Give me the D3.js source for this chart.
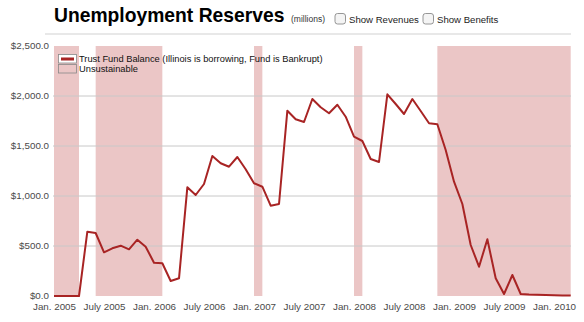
<!DOCTYPE html>
<html><head><meta charset="utf-8">
<script src="https://cdn.jsdelivr.net/npm/d3@7"></script>
<style>
html,body{margin:0;padding:0;background:#fff;}
svg{display:block;font-family:"Liberation Sans",Arial,Helvetica,sans-serif;}
</style></head>
<body><svg id="c" width="584" height="322"></svg>
<script>
// Monthly trust fund balance, $ millions, Jan 2005 .. Mar 2010
const months = ["2005-01","2005-02","2005-03","2005-04","2005-05","2005-06","2005-07","2005-08","2005-09","2005-10","2005-11","2005-12",
"2006-01","2006-02","2006-03","2006-04","2006-05","2006-06","2006-07","2006-08","2006-09","2006-10","2006-11","2006-12",
"2007-01","2007-02","2007-03","2007-04","2007-05","2007-06","2007-07","2007-08","2007-09","2007-10","2007-11","2007-12",
"2008-01","2008-02","2008-03","2008-04","2008-05","2008-06","2008-07","2008-08","2008-09","2008-10","2008-11","2008-12",
"2009-01","2009-02","2009-03","2009-04","2009-05","2009-06","2009-07","2009-08","2009-09","2009-10","2009-11","2009-12",
"2010-01","2010-02","2010-03"];
const balance = [0,0,0,0,643,630,437,477,503,467,563,493,
333,327,150,177,1087,1010,1120,1400,1327,1293,1390,1267,
1127,1093,903,920,1853,1767,1740,1970,1887,1827,1913,1793,
1593,1550,1370,1340,2017,1920,1820,1970,1850,1727,1717,1460,
1143,920,510,293,567,177,20,210,20,15,12,10,
8,6,5];
// Unsustainable periods (first month, last month)
const bandStart = ["2005-01","2005-06","2007-01","2008-01","2008-11"];
const bandEnd   = ["2005-04","2006-02","2007-02","2008-02","2010-03"];
const yTicks = [0,500,1000,1500,2000,2500];
const xTickMonths = ["2005-01","2005-07","2006-01","2006-07","2007-01","2007-07","2008-01","2008-07","2009-01","2009-07","2010-01"];
const xTickLabels = ["Jan. 2005","July 2005","Jan. 2006","July 2006","Jan. 2007","July 2007","Jan. 2008","July 2008","Jan. 2009","July 2009","Jan. 2010"];

const svg = d3.select("#c");
const idx = m => months.indexOf(m);
const x = d3.scaleLinear().domain([0, months.length-1]).range([54, 570.7]);
const y = d3.scaleLinear().domain([0, 2500]).range([296, 46]);

// title
svg.append("text").attr("x",54).attr("y",22).attr("font-size",19.3).attr("font-weight","bold")
  .attr("fill","#000").text("Unemployment Reserves");
svg.append("text").attr("x",291).attr("y",22).attr("font-size",8.5).attr("fill","#333").text("(millions)");
function checkbox(cx, label){
  svg.append("rect").attr("x",cx).attr("y",13.5).attr("width",10.5).attr("height",10.5).attr("rx",2.5)
    .attr("fill","#f4f4f4").attr("stroke","#8a8a8a").attr("stroke-width",0.9);
  svg.append("text").attr("x",cx+14).attr("y",22.5).attr("font-size",9.6).attr("fill","#222").text(label);
}
checkbox(335,"Show Revenues");
checkbox(423,"Show Benefits");
svg.append("line").attr("x1",45).attr("x2",571).attr("y1",34).attr("y2",34).attr("stroke","#e0e0e0").attr("stroke-width",1.5);

// bands
svg.append("g").selectAll("rect").data(bandStart.map((s,i)=>[idx(s), idx(bandEnd[i])])).join("rect")
  .attr("x",d=>x(d[0])).attr("width",d=>x(d[1])-x(d[0]))
  .attr("y",y(2500)).attr("height",y(0)-y(2500)).attr("fill","#ebc6c6");

// grid
svg.append("g").selectAll("line").data(yTicks.filter(v=>v>0 && v<2500)).join("line")
  .attr("x1",53).attr("x2",571).attr("y1",d=>y(d)).attr("y2",d=>y(d))
  .attr("stroke","#c8c8c8").attr("stroke-width",1);

// y axis labels
const yAxis = d3.axisLeft(y).tickValues(yTicks).tickSize(0).tickPadding(0)
  .tickFormat(d=>"$"+d3.format(",.1f")(d));
const gy = svg.append("g").attr("transform","translate(49,0)").call(yAxis);
gy.select(".domain").remove();
gy.selectAll("text").attr("font-size",9.8).attr("fill","#4a4a4a").attr("dy","0.3em").attr("font-family","Liberation Sans, Arial, sans-serif");

// x axis labels
const xAxis = d3.axisBottom(x).tickValues(xTickMonths.map(idx)).tickSize(0).tickPadding(0)
  .tickFormat((d,i)=>xTickLabels[i]);
const gx = svg.append("g").attr("transform","translate(0,303)").call(xAxis);
gx.select(".domain").remove();
gx.selectAll("text").attr("font-size",9.8).attr("fill","#4a4a4a").attr("font-family","Liberation Sans, Arial, sans-serif");

// line
svg.append("path").datum(balance)
  .attr("d", d3.line().x((d,i)=>x(i)).y(d=>y(d)))
  .attr("fill","none").attr("stroke","#a82424").attr("stroke-width",2).attr("stroke-linejoin","round");

// legend
const lg = svg.append("g");
lg.append("rect").attr("x",58.5).attr("y",54.5).attr("width",18).attr("height",8.5).attr("fill","#fff").attr("stroke","#888").attr("stroke-width",0.8);
lg.append("rect").attr("x",61).attr("y",57.5).attr("width",13).attr("height",3).attr("fill","#a82424");
lg.append("text").attr("x",79).attr("y",62).attr("font-size",9.3).attr("fill","#111")
  .text("Trust Fund Balance (Illinois is borrowing, Fund is Bankrupt)");
lg.append("rect").attr("x",58.5).attr("y",64.5).attr("width",18).attr("height",8.5).attr("fill","#ebc6c6").attr("stroke","#888").attr("stroke-width",0.8);
lg.append("text").attr("x",79).attr("y",72).attr("font-size",9.3).attr("fill","#111").text("Unsustainable");
</script></body></html>
